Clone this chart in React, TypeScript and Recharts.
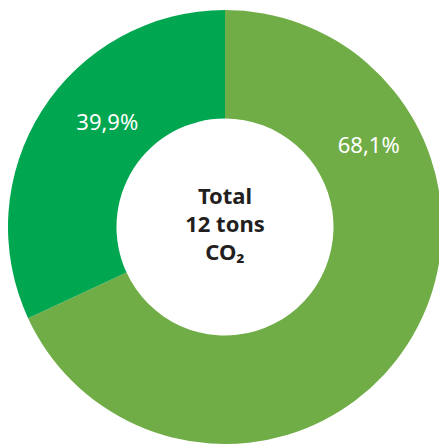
import * as React from "react";
import { PieChart, Pie, Cell, Label } from "recharts";

// shares measured from the ring (the printed "39,9%" is the source's own label text)
const categories = ["Share A", "Share B"];
const shares = [68.1, 31.9];
const labelTexts = ["68,1%", "39,9%"];
const colors = ["#70ad47", "#00a650"];
const centerLines = ["Total", "12 tons", "CO\u2082"];

const data = categories.map((name, i) => ({ name, value: shares[i] }));

const CX = 225;
const CY = 227;
const RAD = Math.PI / 180;
// where the source put its labels inside the ring (degrees, radius fraction)
const labelPlace = [
    { angle: 30, frac: 0.53 },
    { angle: 138, frac: 0.46 },
];

const renderLabel = (props: any) => {
    const { cx, cy, innerRadius, outerRadius, index } = props;
    const p = labelPlace[index];
    const r = innerRadius + (outerRadius - innerRadius) * p.frac;
    const x = cx + r * Math.cos(p.angle * RAD);
    const y = cy - r * Math.sin(p.angle * RAD);
    return (
        <text x={x} y={y} fill="#ffffff" fontSize={22} textAnchor="middle" dominantBaseline="central"
              fontFamily="'Noto Sans', sans-serif">
            {labelTexts[index]}
        </text>
    );
};

const renderCenter = () => (
    <text x={CX} textAnchor="middle" fill="#231f20" fontSize={22} fontWeight="bold"
          fontFamily="'Noto Sans', sans-serif">
        {centerLines.map((line, i) => (
            <tspan key={i} x={CX} y={CY - 23 + i * 28}>{line}</tspan>
        ))}
    </text>
);

export default function App() {
    return (
        <div style={{ position: "fixed", left: 0, top: 0, width: 439, height: 445, background: "#fff" }}>
            <PieChart width={439} height={445} margin={{ top: 0, right: 0, bottom: 0, left: 0 }}>
                <Pie
                    data={data}
                    dataKey="value"
                    nameKey="name"
                    cx={CX}
                    cy={CY}
                    innerRadius={108.5}
                    outerRadius={217}
                    startAngle={90}
                    endAngle={-270}
                    stroke="none"
                    label={renderLabel}
                    labelLine={false}
                    isAnimationActive={false}
                >
                    {data.map((d, i) => (
                        <Cell key={d.name} fill={colors[i]} />
                    ))}
                    <Label position="center" content={renderCenter} />
                </Pie>
            </PieChart>
        </div>
    );
}
